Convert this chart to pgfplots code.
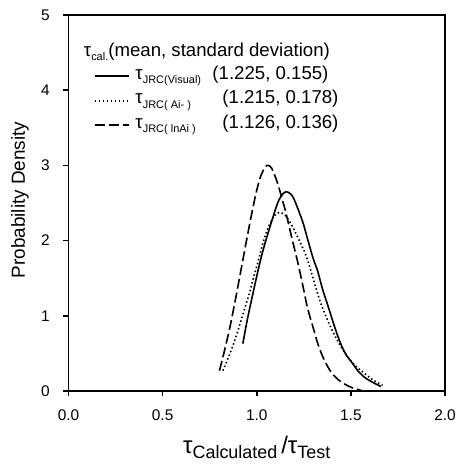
\documentclass[border=0pt]{standalone}
\usepackage{fontspec}
\setmainfont{Liberation Sans}
\usepackage{pgfplots}
\pgfplotsset{compat=1.18}
\usetikzlibrary{calc}
\newcommand\sub[2][11]{\raisebox{-0.45ex}{\fontsize{#1}{#1}\selectfont #2}}

\begin{document}
\begin{tikzpicture}
\begin{axis}[
  name=ax,
  scale only axis, width=376.5bp, height=376bp,
  xmin=0, xmax=2, ymin=0, ymax=5,
  xtick={0,0.5,1,1.5,2}, ytick={0,1,2,3,4,5},
  xticklabels={0.0,0.5,1.0,1.5,2.0},
  tick align=outside, xtick pos=bottom, ytick pos=left,
  major tick length=5.5bp,
  line width=1.8bp,
  axis line style={line width=1.8bp},
  major tick style={line width=1.5bp, black},
  ticklabel style={font=\fontsize{15.5}{15.5}\selectfont},
  xticklabel style={yshift=-9bp},
  yticklabel style={xshift=-9bp},
  /pgf/number format/assume math mode=true,
  ylabel={Probability Density},
  ylabel style={font=\fontsize{19}{19}\selectfont, at={(axis description cs:-0.1288,0.508)}, anchor=center},
  xlabel={\fontsize{24}{24}\selectfont τ\sub[18]{Calculated}\,/τ\sub[18]{Test}},
  xlabel style={at={(axis description cs:0.5,0)}, anchor=base, yshift=-62bp},
  legend style={at={(axis cs:0.13,4.33)}, anchor=north west, draw=none, fill=none,
    font=\fontsize{18.7}{18.7}\selectfont, row sep=4.5bp, inner sep=0pt,
    nodes={inner sep=0pt, text height=13bp, text depth=7bp},
    /tikz/every odd column/.append style={column sep=6bp}},
  legend cell align=left,
  legend image code/.code={\draw[#1] (0bp,0bp) -- (34bp,0bp);},
]
% solid: tau_JRC(Visual)
\addplot[black, line width=1.6bp, smooth] coordinates {
(0.926,0.63) (0.95,0.95) (0.98,1.30) (1.014,1.68) (1.04,1.93) (1.076,2.23)
(1.111,2.50) (1.135,2.61) (1.156,2.65) (1.18,2.62) (1.20,2.54) (1.244,2.25)
(1.27,2.02) (1.30,1.76) (1.323,1.60) (1.35,1.35) (1.385,1.08) (1.41,0.88)
(1.438,0.68) (1.47,0.50) (1.508,0.37) (1.54,0.26) (1.579,0.17) (1.62,0.11) (1.66,0.06)
};
\addlegendentry{\makebox[77bp][l]{τ\sub{JRC(Visual)}}(1.225, 0.155)}
% dotted: tau_JRC(Ai-)
\addplot[black, line width=1.6bp, smooth, dash pattern=on 1.5bp off 2.5bp] coordinates {
(0.82,0.27) (0.85,0.45) (0.873,0.60) (0.90,0.80) (0.917,0.94) (0.94,1.13)
(0.961,1.30) (0.985,1.53) (1.005,1.70) (1.032,1.96) (1.06,2.17) (1.09,2.32)
(1.115,2.37) (1.14,2.36) (1.165,2.29) (1.191,2.18) (1.226,2.00) (1.262,1.80)
(1.297,1.52) (1.32,1.32) (1.35,1.10) (1.394,0.84) (1.44,0.62) (1.47,0.50)
(1.50,0.40) (1.535,0.31) (1.57,0.24) (1.61,0.16) (1.65,0.10) (1.668,0.08)
};
\addlegendentry{\makebox[87bp][l]{τ\sub{JRC( Ai- )}}(1.215, 0.178)}
% dashed: tau_JRC(lnAi)
\addplot[black, line width=1.6bp, smooth, dash pattern=on 10bp off 4bp] coordinates {
(0.802,0.27) (0.83,0.55) (0.86,0.88) (0.89,1.26) (0.92,1.66) (0.95,2.06)
(0.979,2.43) (1.00,2.67) (1.023,2.87) (1.045,2.98) (1.06,3.00) (1.08,2.96)
(1.111,2.76) (1.135,2.55) (1.156,2.36) (1.182,2.08) (1.217,1.72) (1.245,1.40)
(1.27,1.10) (1.30,0.84) (1.323,0.64) (1.35,0.46) (1.385,0.29) (1.42,0.18)
(1.455,0.11) (1.50,0.05) (1.553,0.01)
};
\addlegendentry{\makebox[87bp][l]{τ\sub{JRC( lnAi )}}(1.126, 0.136)}
\node[anchor=west, inner sep=0pt, font=\fontsize{18.7}{18.7}\selectfont] at (axis cs:0.077,4.508) {τ\sub{cal.}(mean, standard deviation)};
\end{axis}
\pgfresetboundingbox
\path ($(ax.south west)+(-68.5bp,-84bp)$) rectangle ($(ax.north east)+(12bp,15bp)$);
\end{tikzpicture}
\end{document}
